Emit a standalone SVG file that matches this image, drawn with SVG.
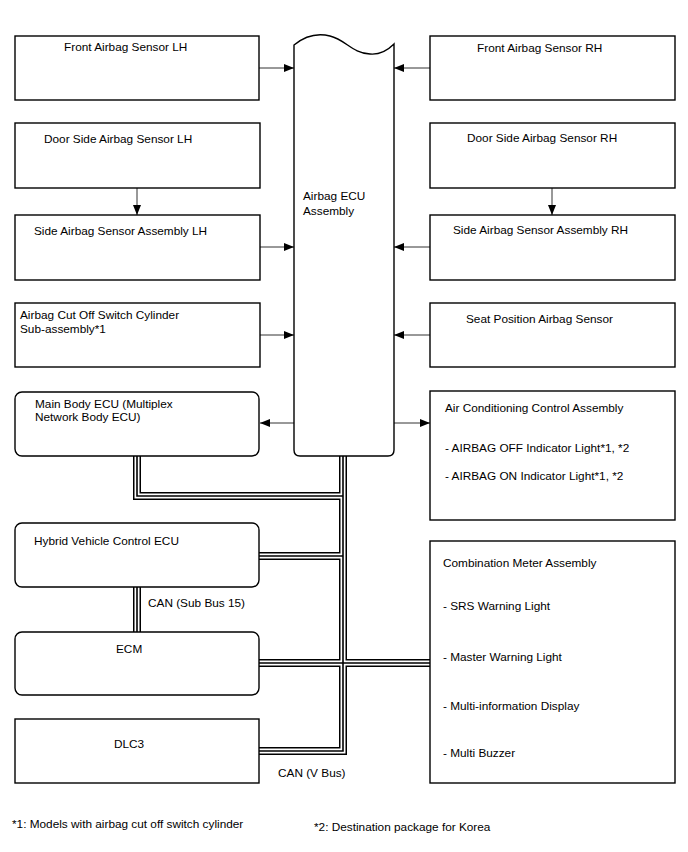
<svg xmlns="http://www.w3.org/2000/svg" width="688" height="852" viewBox="0 0 688 852">
<defs>
<marker id="ah" viewBox="0 0 10 8" refX="10" refY="4" markerWidth="10" markerHeight="8" markerUnits="userSpaceOnUse" orient="auto">
<path d="M0,0 L10,4 L0,8 Z" fill="#000"/>
</marker>
</defs>
<style>
text{font-family:"Liberation Sans",Arial,sans-serif;font-size:11.8px;fill:#000}
.box{fill:#fff;stroke:#000;stroke-width:1.4}
.arr{fill:none;stroke:#333;stroke-width:1;marker-end:url(#ah)}
.b1{fill:none;stroke:#000;stroke-width:8}
.b2{fill:none;stroke:#fff;stroke-width:5}
.b3{fill:none;stroke:#000;stroke-width:1.6}
</style>
<rect width="688" height="852" fill="#fff"/>
<g id="connectors">
<path class="arr" d="M259,68 H294"/>
<path class="arr" d="M430,68 H394"/>
<path class="arr" d="M137,188 V215"/>
<path class="arr" d="M552,188 V215"/>
<path class="arr" d="M260,247 H294"/>
<path class="arr" d="M430,247 H394"/>
<path class="arr" d="M260,335 H294"/>
<path class="arr" d="M430,335 H394"/>
<path class="arr" d="M294,423 H260"/>
<path class="arr" d="M394,423 H430"/>
<g id="bus">
<path class="b1" d="M137,456 V496 H343 M343,456 V751 H259 M259,556 H343 M259,663 H430 M137,587 V632"/>
<path class="b2" d="M137,456 V496 H343 M343,456 V751 H259 M259,556 H343 M259,663 H430 M137,587 V632"/>
<path class="b3" d="M137,456 V496 H343 M343,456 V751 H259 M259,556 H343 M259,663 H430 M137,587 V632"/>
</g>
</g>
<g id="ecu">
<path class="box" d="M294,45 C305,36 318,33 330,36 C346,40 352,53 370,54 C381,55 388,50 394,44 V450 Q394,456 388,456 H300 Q294,456 294,450 Z"/>
<text x="303" y="200">Airbag ECU</text>
<text x="303" y="215">Assembly</text>
</g>
<g id="front-lh"><rect class="box" x="15" y="36" width="244" height="64"/><text x="64" y="51">Front Airbag Sensor LH</text></g>
<g id="front-rh"><rect class="box" x="430" y="36" width="245" height="64"/><text x="477" y="52">Front Airbag Sensor RH</text></g>
<g id="door-lh"><rect class="box" x="15" y="123" width="245" height="65"/><text x="44" y="143">Door Side Airbag Sensor LH</text></g>
<g id="door-rh"><rect class="box" x="430" y="123" width="245" height="65"/><text x="467" y="142">Door Side Airbag Sensor RH</text></g>
<g id="side-lh"><rect class="box" x="15" y="215" width="245" height="65"/><text x="34" y="235">Side Airbag Sensor Assembly LH</text></g>
<g id="side-rh"><rect class="box" x="430" y="215" width="245" height="65"/><text x="453" y="234">Side Airbag Sensor Assembly RH</text></g>
<g id="cutoff"><rect class="box" x="15" y="303" width="245" height="64"/><text x="20" y="319">Airbag Cut Off Switch Cylinder</text><text x="20" y="333">Sub-assembly*1</text></g>
<g id="seat"><rect class="box" x="430" y="303" width="245" height="64"/><text x="466" y="323">Seat Position Airbag Sensor</text></g>
<g id="main-body"><rect class="box" x="15" y="392" width="244" height="64" rx="7"/><text x="35" y="408">Main Body ECU (Multiplex</text><text x="35" y="421">Network Body ECU)</text></g>
<g id="aircon"><rect class="box" x="430" y="391" width="245" height="129"/><text x="445" y="412">Air Conditioning Control Assembly</text><text x="445" y="452">- AIRBAG OFF Indicator Light*1, *2</text><text x="445" y="480">- AIRBAG ON Indicator Light*1, *2</text></g>
<g id="hybrid"><rect class="box" x="15" y="523" width="244" height="64" rx="7"/><text x="34" y="545">Hybrid Vehicle Control ECU</text></g>
<g id="ecm"><rect class="box" x="15" y="632" width="244" height="63" rx="7"/><text x="116" y="653">ECM</text></g>
<g id="dlc3"><rect class="box" x="15" y="719" width="244" height="64"/><text x="114" y="748">DLC3</text></g>
<g id="meter"><rect class="box" x="430" y="541" width="245" height="242"/><text x="443" y="567">Combination Meter Assembly</text><text x="443" y="610">- SRS Warning Light</text><text x="443" y="661">- Master Warning Light</text><text x="443" y="710">- Multi-information Display</text><text x="443" y="757">- Multi Buzzer</text></g>
<text x="148" y="607">CAN (Sub Bus 15)</text>
<text x="278" y="777">CAN (V Bus)</text>
<text x="12" y="828">*1: Models with airbag cut off switch cylinder</text>
<text x="314" y="831">*2: Destination package for Korea</text>
</svg>
